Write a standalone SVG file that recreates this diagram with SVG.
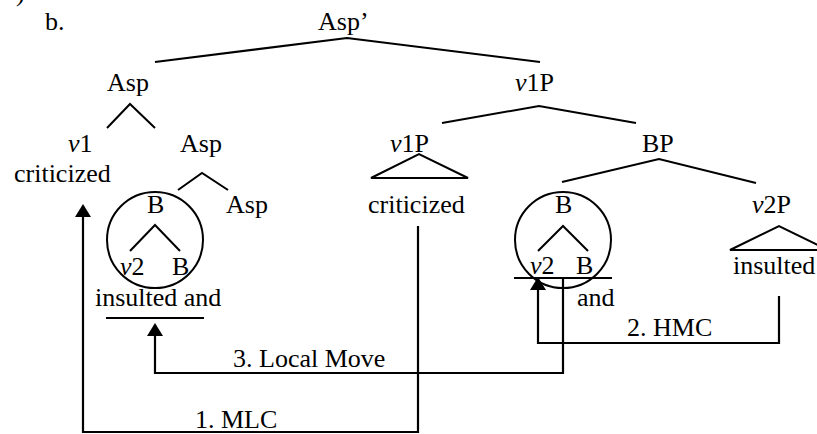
<svg xmlns="http://www.w3.org/2000/svg" width="817" height="434" viewBox="0 0 817 434">
<style>
text{font-family:"Liberation Serif","Times New Roman",serif;font-size:26px;fill:#000}
.i{font-style:italic}
.ln{stroke:#000;stroke-width:2;fill:none}
.conn path{stroke:#000;stroke-width:2.2;fill:none;marker-end:url(#ah)}
</style>
<defs>
<marker id="ah" viewBox="0 0 13 16" refX="0" refY="8" markerWidth="13" markerHeight="16" markerUnits="userSpaceOnUse" orient="auto"><path d="M0,0 L13,8 L0,16 Z" fill="#000"/></marker>
</defs>
<rect width="817" height="434" fill="#fff"/>
<text x="16" y="1">)</text>
<text x="45" y="30">b.</text>
<g id="n-aspbar"><text x="318" y="30">Asp’</text>
<path class="ln" d="M155,62 L347,38 L540,62"/></g>
<g id="n-asp1"><text x="107" y="91">Asp</text>
<path class="ln" d="M107,128 L130,104 L155,128"/></g>
<g id="n-v1p"><text x="515" y="91"><tspan class="i">v</tspan>1P</text>
<path class="ln" d="M442,123 L539,106 L636,123"/></g>
<g id="n-v1"><text x="68" y="152"><tspan class="i">v</tspan>1</text><text x="14" y="182">criticized</text></g>
<g id="n-asp2"><text x="180" y="152">Asp</text>
<path class="ln" d="M178,190 L202,173 L228,190"/></g>
<g id="n-v1p2"><text x="390" y="152"><tspan class="i">v</tspan>1P</text>
<path class="ln" d="M371,178 L419,154 L468,178 Z"/>
<text x="368" y="213">criticized</text></g>
<g id="n-bp"><text x="642" y="152">BP</text>
<path class="ln" d="M562,182 L659,159 L756,183"/></g>
<g id="n-asp3"><text x="226" y="213">Asp</text></g>
<g id="n-b1"><circle class="ln" cx="155" cy="240" r="48"/>
<text x="147" y="213">B</text>
<path class="ln" d="M130,251 L155,225 L180,251"/>
<text x="120" y="275"><tspan class="i">v</tspan>2</text><text x="172" y="275">B</text>
<text x="95" y="306">insulted and</text>
<path class="ln" d="M106,318 L204,318"/></g>
<g id="n-b2"><circle class="ln" cx="563" cy="240" r="48"/>
<text x="555" y="213">B</text>
<path class="ln" d="M538,251 L563,226 L588,251"/>
<text x="530" y="274"><tspan class="i">v</tspan>2</text><text x="576" y="274">B</text>
<path class="ln" d="M514,278 L612,278"/>
<text x="577" y="306">and</text></g>
<g id="n-v2p"><text x="752" y="213"><tspan class="i">v</tspan>2P</text>
<path class="ln" d="M730,250 L779,226 L828,250 Z"/>
<text x="733" y="274">insulted</text></g>
<g id="connectors" class="conn">
<path d="M418,226 V432 H83 V217"/>
<path d="M563,278 V373 H155 V336"/>
<path d="M779,296 V343 H538 V290"/>
<text x="233" y="367">3. Local Move</text>
<text x="627" y="336">2. HMC</text>
<text x="195" y="428">1. MLC</text>
</g>
</svg>
